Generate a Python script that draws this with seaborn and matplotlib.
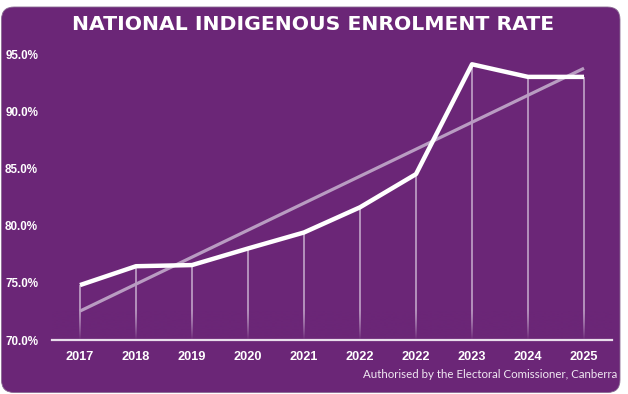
import numpy as np
import pandas as pd
import matplotlib
matplotlib.use("Agg")
import matplotlib.pyplot as plt
import seaborn as sns
from matplotlib.patches import FancyBboxPatch
from matplotlib.colors import to_rgb

# ---- data ----
years = ["2017", "2018", "2019", "2020", "2021", "2022", "2022", "2023", "2024", "2025"]
rates = [74.8, 76.45, 76.55, 78.0, 79.4, 81.6, 84.5, 94.1, 93.0, 93.0]
y_ticks = [70, 75, 80, 85, 90, 95]
title = "NATIONAL INDIGENOUS ENROLMENT RATE"
caption = "Authorised by the Electoral Comissioner, Canberra"

purple = "#6B2677"
trend_col = "#B99CC2"
drop_col = "#D9C6DE"

sns.set_theme(style="white")
plt.rcParams["font.family"] = ["Liberation Sans", "DejaVu Sans"]

W, H = 628, 394
fig = plt.figure(figsize=(W / 100, H / 100), dpi=100)
fig.patch.set_facecolor("white")

# rounded purple card
card = FancyBboxPatch((1.5 / W, 1.5 / H), (620 - 1.5) / W, (387 - 1.5) / H,
                      boxstyle="round,pad=0,rounding_size=0.02",
                      transform=fig.transFigure, facecolor=purple,
                      edgecolor="#8A6A92", linewidth=0.6, zorder=-5,
                      mutation_aspect=W / H)
fig.patches.append(card)

ax = fig.add_axes([52 / W, 1 - 340 / H, (612 - 52) / W, (340 - 54) / H])
ax.set_facecolor("none")
ax.set_zorder(2)

df = pd.DataFrame({"pos": np.arange(len(years)), "rate": rates})

# drop lines
ax.vlines(df["pos"], 70, df["rate"], color=drop_col, linewidth=1.1, alpha=0.85, zorder=2)

# fade of drop lines toward the axis
grad = np.zeros((64, 1, 4))
rgb = to_rgb(purple)
grad[..., 0], grad[..., 1], grad[..., 2] = rgb
grad[:, 0, 3] = np.linspace(0, 1, 64) ** 1.3
ax.imshow(grad, extent=[-0.5, len(years) - 0.5, 70, 72.6], origin="upper",
          aspect="auto", zorder=3, interpolation="bilinear")

# trend line (linear fit)
sns.regplot(data=df, x="pos", y="rate", scatter=False, ci=None, ax=ax,
            line_kws=dict(color=trend_col, linewidth=2.3, zorder=4, solid_capstyle="butt"))

# main line
sns.lineplot(data=df, x="pos", y="rate", ax=ax, color="white", linewidth=3.2,
             zorder=5, solid_capstyle="butt")

ax.set_xlim(-0.5, len(years) - 0.5)
ax.set_ylim(70, 95)
ax.set_xlabel("")
ax.set_ylabel("")

for s in ["top", "right", "left"]:
    ax.spines[s].set_visible(False)
ax.spines["bottom"].set_color("#E8DDEB")
ax.spines["bottom"].set_linewidth(1.6)
ax.spines["bottom"].set_zorder(6)

ax.set_yticks(y_ticks)
ax.set_yticklabels([f"{v:.1f}%" for v in y_ticks], color="white",
                   fontsize=8.4, fontweight="bold")
ax.tick_params(axis="y", length=0, pad=10)

ax.set_xticks(np.arange(-0.5, len(years), 1.0))
ax.set_xticklabels([])
ax.tick_params(axis="x", which="major", length=4, width=1.2, color="#E8DDEB", direction="out")
ax.set_xticks(np.arange(len(years)), minor=True)
ax.set_xticklabels(years, minor=True, color="white", fontsize=9.2, fontweight="bold")
ax.tick_params(axis="x", which="minor", length=0, pad=8)
ax.grid(False)

fig.text(313 / W, 1 - 24 / H, title, ha="center", va="center", color="white",
         fontsize=14.7, fontweight="bold", family=["DejaVu Sans"])
fig.text(617 / W, 1 - 375 / H, caption, ha="right", va="center", color="#F0E8F2",
         fontsize=8.3, family=["Lato", "DejaVu Sans"])

fig.savefig("out.png", dpi=100, facecolor="white")
